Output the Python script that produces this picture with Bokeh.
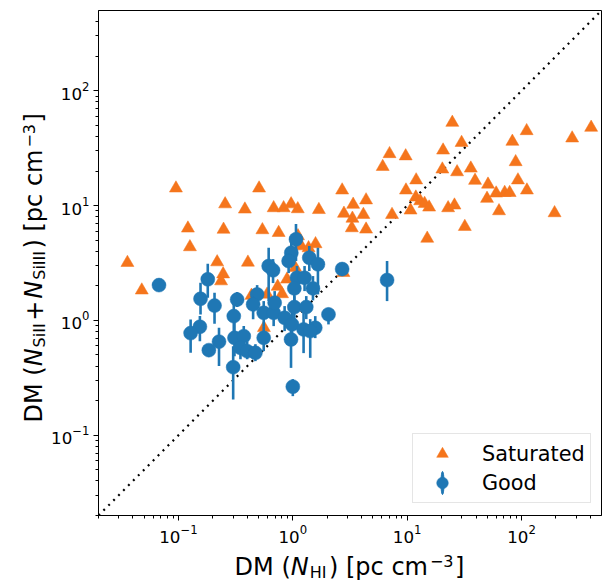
import math
from bokeh.plotting import figure
from bokeh.layouts import column, row
from bokeh.models import FixedTicker, LogTickFormatter, Label, Legend, LegendItem, Range1d
from bokeh.embed import file_html
from bokeh.resources import INLINE

# ---------------- data ----------------
sat_x = [0.0358, 0.0478, 0.0951, 0.121, 0.126, 0.256, 0.248, 0.381, 0.507, 0.542,
         0.218, 0.405, 0.246, 0.236, 0.752, 0.435, 0.596, 0.737, 0.805, 0.559,
         1.11, 1.186, 1.373, 1.58, 1.05, 0.89, 0.68, 0.831, 0.966, 1.105,
         1.69, 2.70, 4.37, 3.37, 2.80, 4.14, 3.32, 3.28, 4.37, 7.37,
         6.11, 7.01, 9.70, 24.8, 110.8, 406.0, 277.0, 83.1, 29.9, 20.6,
         88.8, 36.0, 20.3, 27.3, 11.98, 39.2, 93.0, 50.9, 9.76, 111.4,
         60.0, 71.2, 78.7, 49.9, 11.9, 13.0, 14.2, 15.55, 10.7, 22.8,
         25.9, 63.5, 194.4, 31.9, 14.97, 2.77]
sat_y = [3.18, 1.83, 14.15, 6.34, 4.36, 10.3, 6.19, 9.28, 14.15, 6.13,
         3.22, 3.20, 2.53, 2.20, 5.80, 1.645, 1.685, 1.97, 1.70, 0.862,
         5.43, 4.44, 4.27, 4.63, 2.87, 2.28, 9.53, 9.53, 10.3, 9.34,
         9.19, 13.6, 11.15, 10.2, 8.53, 8.33, 7.72, 6.38, 6.21, 8.33,
         21.8, 28.2, 26.96, 52.8, 44.7, 47.8, 38.6, 36.1, 35.3, 30.3,
         24.0, 21.1, 20.7, 19.6, 16.65, 16.5, 16.65, 15.3, 13.6, 13.6,
         12.8, 12.96, 12.93, 11.5, 11.8, 10.97, 10.4, 9.66, 9.10, 9.53,
         10.06, 8.97, 8.62, 6.55, 5.17, 2.60]

good_x = [0.0676, 0.1805, 0.156, 0.2068, 0.154, 0.1278, 0.1845, 0.2263, 0.326, 0.3047,
          0.309, 0.301, 0.3725, 0.3485, 0.3988, 0.471, 0.4875, 0.4498, 0.5565, 0.68,
          0.694, 0.5565, 0.615, 0.672, 1.066, 0.970, 0.919, 1.393, 1.658, 1.088,
          1.267, 1.031, 1.50, 1.031, 1.311, 0.848, 0.984, 1.242, 1.571, 0.9645,
          1.0, 2.051, 2.70, 6.67, 1.42]
good_y = [2.03, 2.28, 1.543, 1.346, 0.88, 0.775, 0.551, 0.653, 1.518, 1.09,
          0.705, 0.3916, 0.7297, 0.577, 0.54, 0.522, 1.685, 1.379, 1.165, 1.165,
          1.423, 0.705, 2.975, 2.73, 5.085, 3.886, 3.29, 3.514, 3.08, 2.351,
          2.351, 1.901, 1.901, 1.306, 1.306, 1.054, 0.923, 0.835, 0.862, 0.683,
          0.2648, 1.128, 2.80, 2.246, 0.807]
good_lo = [1.90, 1.574, 1.128, 0.934, 0.66, 0.522, 0.53, 0.40, 1.306, 0.705,
           0.488, 0.2048, 0.54, 0.46, 0.46, 0.442, 1.333, 1.026, 0.892, 0.892,
           1.09, 0.54, 1.473, 2.115, 3.29, 2.975, 2.585, 2.69, 1.685, 1.80,
           1.80, 1.473, 1.494, 1.026, 1.026, 0.807, 0.687, 0.519, 0.701, 0.386,
           0.219, 0.923, 2.433, 1.473, 0.472]
good_hi = [2.15, 3.12, 2.127, 1.74, 1.09, 1.02, 0.57, 0.862, 1.765, 1.473,
           0.986, 0.597, 0.892, 0.76, 0.66, 0.621, 2.03, 1.80, 1.473, 1.473,
           1.80, 0.892, 4.30, 3.42, 6.91, 4.91, 4.02, 4.44, 4.30, 2.975,
           2.975, 2.433, 2.433, 1.629, 1.629, 1.333, 1.205, 1.205, 1.09, 0.928,
           0.308, 1.288, 3.16, 3.29, 1.026]

axis_limits = [0.02, 500]
diag = [0.02, 500]
major_ticks = [0.1, 1, 10, 100]
minor_ticks = [0.02, 0.03, 0.04, 0.05, 0.06, 0.07, 0.08, 0.09,
               0.2, 0.3, 0.4, 0.5, 0.6, 0.7, 0.8, 0.9,
               2, 3, 4, 5, 6, 7, 8, 9,
               20, 30, 40, 50, 60, 70, 80, 90,
               200, 300, 400]
legend_labels = ["Saturated", "Good"]

ORANGE = "#f5751c"
BLUE = "#1f77b4"
FONT = "DejaVu Sans"

# ---------------- layout geometry ----------------
W, H = 603, 581
YW = 48            # strip holding the y-axis title
MH = 550           # height of main figure
XH = H - MH        # strip holding the x-axis title
MW = W - YW
FRAME_TOP, FRAME_BOTTOM = 10, 515
ML, MR, MT = 97 - YW, 2, FRAME_TOP
MB = MH - FRAME_BOTTOM

p = figure(width=MW, height=MH, x_axis_type="log", y_axis_type="log",
           x_range=tuple(axis_limits), y_range=tuple(axis_limits),
           output_backend="svg", toolbar_location=None,
           min_border_left=ML, min_border_right=MR, min_border_top=MT, min_border_bottom=MB)
p.grid.visible = False
p.outline_line_color = "black"
p.outline_line_width = 1
p.outline_line_alpha = 1
p.background_fill_color = "white"
p.border_fill_color = "white"

for ax in (p.xaxis[0], p.yaxis[0]):
    ax.ticker = FixedTicker(ticks=major_ticks, minor_ticks=minor_ticks)
    ax.formatter = LogTickFormatter()
    ax.axis_line_color = "black"
    ax.major_tick_line_color = "black"
    ax.minor_tick_line_color = "black"
    ax.major_tick_out = 5
    ax.major_tick_in = 0
    ax.minor_tick_out = 3
    ax.minor_tick_in = 0
    ax.major_label_text_font = FONT
    ax.major_label_text_font_size = "16.7px"
    ax.major_label_text_color = "black"
    ax.major_label_standoff = 4

p.line(diag, diag, line_color="black", line_width=2.2, line_dash="2 5")

sat_r = p.scatter(sat_x, sat_y, marker="triangle", size=13, fill_color=ORANGE,
                  line_color=ORANGE, line_width=0.5)
p.segment(x0=good_x, y0=good_lo, x1=good_x, y1=good_hi, line_color=BLUE, line_width=2.6)
bar_r = p.ellipse(x=good_x, y=good_y, width=1.6, height=12, width_units="screen",
                  height_units="screen", fill_color=BLUE, line_color=BLUE, line_width=1)
good_r = p.scatter(good_x, good_y, marker="circle", size=14, fill_color=BLUE,
                   line_color=BLUE, line_width=0.5)

legend = Legend(items=[LegendItem(label=legend_labels[0], renderers=[sat_r]),
                       LegendItem(label=legend_labels[1], renderers=[bar_r, good_r])],
                location=(314, 12), padding=5, spacing=0, margin=0,
                glyph_width=48, glyph_height=29, label_height=29, label_width=103,
                label_standoff=16, label_text_font=FONT, label_text_font_size="20.8px",
                label_text_color="black", border_line_color="#cccccc", border_line_width=1,
                background_fill_color="white", background_fill_alpha=0.8)
p.add_layout(legend)


def blank(w, h):
    f = figure(width=w, height=h, x_range=Range1d(0, 1), y_range=Range1d(0, 1),
               output_backend="svg", toolbar_location=None,
               x_axis_location=None, y_axis_location=None,
               min_border_left=0, min_border_right=0, min_border_top=0, min_border_bottom=0)
    f.grid.visible = False
    f.outline_line_color = None
    f.background_fill_color = "white"
    f.border_fill_color = "white"
    return f


yfig = blank(YW, MH)
xfig = blank(W, XH)

# ---------------- axis titles with sub/superscripts ----------------
ADV = {"D": 1577, "M": 1767, " ": 651, "(": 799, ")": 799, "[": 799, "]": 799,
       "N": 1532, "H": 1540, "I": 604, "S": 1300, "i": 569, "+": 1716,
       "p": 1300, "c": 1126, "m": 1995, "\u2212": 1716, "3": 1303}


def tw(s, size):
    return sum(ADV[c] for c in s) * size / 2048.0


F = 24.0
S = 16.0
SUP = 8.0
ANCHOR = 0.30      # text anchor sits this fraction of the font size above the baseline


def pieces_for(parts):
    out = []
    off = 0.0
    for text, size, italic, shift, gap in parts:
        out.append((text, size, italic, shift, off))
        off += tw(text, size) + gap
    return out, off


xparts = [("DM (", F, False, 0, 0), ("N", F, True, 0, 1), ("HI", S, False, -3.5, 2.5),
          (") [pc cm", F, False, 0, 2), ("\u22123", S, False, SUP, 1.5), ("]", F, False, 0, 0)]
yparts = [("DM (", F, False, 0, 0), ("N", F, True, 0, 1), ("SiII", S, False, -3.0, 2.5),
          ("+", F, False, 0, 2), ("N", F, True, 0, 1), ("SiIII", S, False, -3.0, 2.5),
          (") [pc cm", F, False, 0, 2), ("\u22123", S, False, SUP, 1.5), ("]", F, False, 0, 0)]


def make_label(x, y, text, size, italic, angle=0.0):
    return Label(x=x, y=y, x_units="screen", y_units="screen", angle=angle,
                 text=text, text_font=FONT, text_font_size=f"{size:.2f}px",
                 text_font_style="italic" if italic else "normal",
                 text_color="black", text_align="left", text_baseline="alphabetic")


# x title: centred under the frame (page x 349), baseline at page y 573.3
xp, xw = pieces_for(xparts)
x_start = 349.0 - xw / 2.0
x_base = H - 573.3
for text, size, italic, shift, off in xp:
    xfig.add_layout(make_label(x_start + off, x_base + shift + ANCHOR * size, text, size, italic))

# y title: its frame is aligned with the main frame (bottom at page y 515)
yp, yw = pieces_for(yparts)
y_start = (FRAME_BOTTOM - 267.3) - yw / 2.0
y_base = 41.0
for text, size, italic, shift, off in yp:
    yfig.add_layout(make_label(y_base - shift - ANCHOR * size, y_start + off, text, size, italic,
                               angle=math.pi / 2))

layout = column(row(yfig, p, spacing=0), xfig, spacing=0)

open("out.html", "w").write(file_html(layout, INLINE))
